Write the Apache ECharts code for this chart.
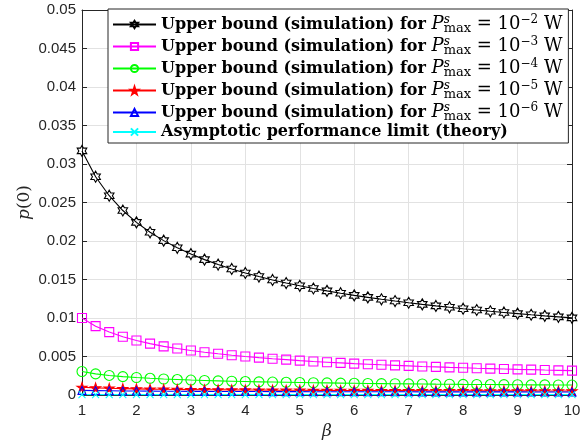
<!DOCTYPE html>
<html><head><meta charset="utf-8">
<script src="https://cdn.jsdelivr.net/npm/echarts@6/dist/echarts.min.js"></script>
<style>html,body{margin:0;padding:0;background:#fff}#c{width:586px;height:442px}</style>
</head><body><div id="c"></div>
<script>
const beta = [1,1.25,1.5,1.75,2,2.25,2.5,2.75,3,3.25,3.5,3.75,4,4.25,4.5,4.75,5,5.25,5.5,5.75,6,6.25,6.5,6.75,7,7.25,7.5,7.75,8,8.25,8.5,8.75,9,9.25,9.5,9.75,10];
const ubE2 = [0.0317,0.02835,0.02588,0.02396,0.02242,0.02113,0.02005,0.01912,0.01830,0.01758,0.01694,0.01637,0.01585,0.01538,0.01494,0.01454,0.01418,0.01383,0.01352,0.01322,0.01294,0.01268,0.01243,0.01220,0.01198,0.01177,0.01157,0.01139,0.01121,0.01104,0.01087,0.01072,0.01057,0.01042,0.01028,0.01015,0.01002];
const ubE3 = [0.0100,0.00894,0.00817,0.00756,0.00707,0.00667,0.00632,0.00603,0.00577,0.00555,0.00535,0.00516,0.00500,0.00485,0.00471,0.00459,0.00447,0.00436,0.00426,0.00417,0.00408,0.00400,0.00392,0.00385,0.00378,0.00371,0.00365,0.00359,0.00354,0.00348,0.00343,0.00338,0.00333,0.00329,0.00324,0.00320,0.00316];
const ubE4 = [0.00305,0.00274,0.00254,0.00239,0.00227,0.00217,0.00208,0.00201,0.00194,0.00189,0.00184,0.00179,0.00175,0.00171,0.00168,0.00165,0.00162,0.00159,0.00157,0.00154,0.00152,0.00150,0.00148,0.00146,0.00145,0.00143,0.00141,0.00140,0.00138,0.00137,0.00136,0.00135,0.00133,0.00132,0.00131,0.00130,0.00129];
const ubE5 = [0.00100,0.000926,0.000872,0.000829,0.000795,0.000767,0.000743,0.000722,0.000704,0.000688,0.000674,0.000661,0.000650,0.000640,0.000630,0.000621,0.000613,0.000605,0.000598,0.000592,0.000586,0.000580,0.000575,0.000569,0.000565,0.000560,0.000556,0.000551,0.000548,0.000544,0.000540,0.000537,0.000533,0.000530,0.000527,0.000524,0.000521];
const ubE6 = [0.000600,0.000568,0.000545,0.000527,0.000512,0.000500,0.000490,0.000481,0.000473,0.000466,0.000460,0.000455,0.000450,0.000446,0.000441,0.000438,0.000434,0.000431,0.000428,0.000425,0.000422,0.000420,0.000418,0.000415,0.000413,0.000411,0.000410,0.000408,0.000406,0.000404,0.000403,0.000401,0.000400,0.000399,0.000397,0.000396,0.000395];
const limit = [0.00005,0.00005,0.00005,0.00005,0.00005,0.00005,0.00005,0.00005,0.00005,0.00005,0.00005,0.00005,0.00005,0.00005,0.00005,0.00005,0.00005,0.00005,0.00005,0.00005,0.00005,0.00005,0.00005,0.00005,0.00005,0.00005,0.00005,0.00005,0.00005,0.00005,0.00005,0.00005,0.00005,0.00005,0.00005,0.00005,0.00005];
const exps = ['\u22122','\u22123','\u22124','\u22125','\u22126'];
const seriesNames = exps.map(e => 'Upper bound (simulation) for P^s_max = 10^' + e + ' W').concat(['Asymptotic performance limit (theory)']);
const xTicks = {min: 1, max: 10, interval: 1};
const yTicks = {min: 0, max: 0.05, interval: 0.005};

const hexagram = 'path://M0,-1L0.2887,-0.5L0.866,-0.5L0.577,0L0.866,0.5L0.2887,0.5L0,1L-0.2887,0.5L-0.866,0.5L-0.577,0L-0.866,-0.5L-0.2887,-0.5Z';
const pentagram = 'path://M0,-1L0.2245,-0.309L0.951,-0.309L0.363,0.118L0.588,0.809L0,0.382L-0.588,0.809L-0.363,0.118L-0.951,-0.309L-0.2245,-0.309Z';
const cross = 'path://M-1,-1L1,1M1,-1L-1,1';
const none = 'rgba(255,255,255,0)';
const styles = [
  {c:'#000000', sym:hexagram, size:11, fill:none},
  {c:'#ff00ff', sym:'rect', size:9, fill:none},
  {c:'#00ff00', sym:'circle', size:10, fill:none},
  {c:'#ff0000', sym:pentagram, size:10, fill:'#ff0000'},
  {c:'#0000ff', sym:'triangle', size:8, fill:none},
  {c:'#00ffff', sym:cross, size:7, fill:none}
];
const allData = [ubE2, ubE3, ubE4, ubE5, ubE6, limit];

const series = allData.map((vals, k) => ({
  type: 'line',
  name: seriesNames[k],
  data: beta.map((b, i) => [b, vals[i]]),
  symbol: styles[k].sym,
  symbolSize: styles[k].size,
  symbolKeepAspect: true,
  showAllSymbol: true,
  lineStyle: {color: styles[k].c, width: 1.1},
  itemStyle: {color: styles[k].fill, borderColor: styles[k].c, borderWidth: 1.1},
  emphasis: {disabled: true},
  animation: false
}));

const axisCol = '#262626';
const chart = echarts.init(document.getElementById('c'), null, {renderer: 'canvas'});
chart.setOption({
  backgroundColor: '#fff',
  animation: false,
  grid: {left: 82, right: 14, top: 10, bottom: 47, containLabel: false, outerBoundsMode: 'none'},
  xAxis: [{
    type: 'value', ...xTicks, position: 'bottom',
    axisLine: {show: true, onZero: false, lineStyle: {color: axisCol, width: 1}},
    axisTick: {show: true, inside: true, length: 5, lineStyle: {color: axisCol}},
    axisLabel: {color: axisCol, fontSize: 15, fontFamily: 'Liberation Sans', margin: 8},
    splitLine: {show: true, lineStyle: {color: '#e2e2e2', width: 1}},
    name: 'β', nameLocation: 'middle', nameGap: 26,
    nameTextStyle: {fontFamily: 'DejaVu Serif', fontStyle: 'italic', fontSize: 17, color: axisCol}
  }, {
    type: 'value', ...xTicks, position: 'top',
    axisLine: {show: true, onZero: false, lineStyle: {color: axisCol, width: 1}},
    axisTick: {show: true, inside: true, length: 5, lineStyle: {color: axisCol}},
    axisLabel: {show: false}, splitLine: {show: false}
  }],
  yAxis: [{
    type: 'value', ...yTicks, position: 'left',
    axisLine: {show: true, onZero: false, lineStyle: {color: axisCol, width: 1}},
    axisTick: {show: true, inside: true, length: 5, lineStyle: {color: axisCol}},
    axisLabel: {color: axisCol, fontSize: 15, fontFamily: 'Liberation Sans', margin: 6,
      formatter: v => String(+(+v).toFixed(4))},
    splitLine: {show: true, lineStyle: {color: '#e2e2e2', width: 1}},
    name: '{i|p}{r|(0)}', nameLocation: 'middle', nameGap: 49, nameMoveOverlap: false,
    nameTextStyle: {color: axisCol, rich: {
      i: {fontFamily: 'DejaVu Serif', fontStyle: 'italic', fontSize: 17, color: axisCol},
      r: {fontFamily: 'DejaVu Serif', fontSize: 17, color: axisCol}
    }}
  }, {
    type: 'value', ...yTicks, position: 'right',
    axisLine: {show: true, onZero: false, lineStyle: {color: axisCol, width: 1}},
    axisTick: {show: true, inside: true, length: 5, lineStyle: {color: axisCol}},
    axisLabel: {show: false}, splitLine: {show: false}
  }],
  legend: {
    orient: 'vertical', left: 108, top: 9,
    padding: [5, 6, 3, 4], itemGap: 1, itemWidth: 43, itemHeight: 9,
    backgroundColor: '#fff', borderColor: axisCol, borderWidth: 1, borderRadius: 0,
    data: seriesNames,
    selectedMode: false,
    formatter: function (name) {
      const k = seriesNames.indexOf(name);
      if (k < 5) {
        return '{n|Upper bound (simulation) for }{P|P}{s|s}{sub|max}{m| = 10}{ex|' + exps[k] + '}{m| W}';
      }
      return '{n|Asymptotic performance limit (theory)}';
    },
    textStyle: {
      color: '#000',
      rich: {
        n: {fontFamily: 'DejaVu Serif', fontWeight: 'bold', fontSize: 16, lineHeight: 21, color: '#000'},
        P: {fontFamily: 'DejaVu Serif', fontStyle: 'italic', fontSize: 18, lineHeight: 21, color: '#000'},
        s: {fontFamily: 'DejaVu Serif', fontStyle: 'italic', fontSize: 12, lineHeight: 12, width: 0, verticalAlign: 'top', color: '#000'},
        sub: {fontFamily: 'DejaVu Serif', fontSize: 13, lineHeight: 13, verticalAlign: 'bottom', color: '#000'},
        m: {fontFamily: 'DejaVu Serif', fontSize: 18, lineHeight: 21, color: '#000'},
        ex: {fontFamily: 'DejaVu Serif', fontSize: 12, lineHeight: 12, verticalAlign: 'top', color: '#000'}
      }
    }
  },
  series: series
});
</script>
</body></html>
